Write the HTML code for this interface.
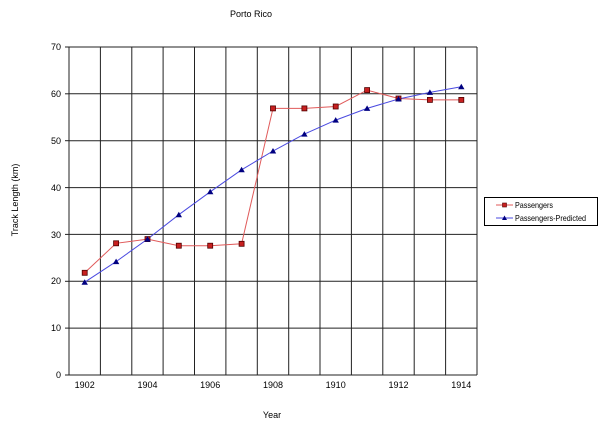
<!DOCTYPE html>
<html><head><meta charset="utf-8"><style>
html,body{margin:0;padding:0;background:#fff;}
svg{display:block;font-family:"Liberation Sans",Arial,sans-serif;}
</style></head><body>
<svg width="600" height="424" viewBox="0 0 600 424" xmlns="http://www.w3.org/2000/svg">
<rect width="600" height="424" fill="#fff"/>
<text x="251" y="17" font-size="9" text-anchor="middle" fill="#000">Porto Rico</text>
<g stroke="#222" stroke-width="1" fill="none">
<line x1="69" y1="47" x2="477" y2="47"/>
<line x1="69" y1="93.8" x2="477" y2="93.8"/>
<line x1="69" y1="140.7" x2="477" y2="140.7"/>
<line x1="69" y1="187.6" x2="477" y2="187.6"/>
<line x1="69" y1="234.4" x2="477" y2="234.4"/>
<line x1="69" y1="281.3" x2="477" y2="281.3"/>
<line x1="69" y1="328.1" x2="477" y2="328.1"/>
<line x1="100.4" y1="47" x2="100.4" y2="375"/>
<line x1="131.8" y1="47" x2="131.8" y2="375"/>
<line x1="163.1" y1="47" x2="163.1" y2="375"/>
<line x1="194.5" y1="47" x2="194.5" y2="375"/>
<line x1="225.9" y1="47" x2="225.9" y2="375"/>
<line x1="257.3" y1="47" x2="257.3" y2="375"/>
<line x1="288.7" y1="47" x2="288.7" y2="375"/>
<line x1="320" y1="47" x2="320" y2="375"/>
<line x1="351.4" y1="47" x2="351.4" y2="375"/>
<line x1="382.8" y1="47" x2="382.8" y2="375"/>
<line x1="414.2" y1="47" x2="414.2" y2="375"/>
<line x1="445.6" y1="47" x2="445.6" y2="375"/>
<line x1="477" y1="47" x2="477" y2="375"/>
<line x1="69" y1="47" x2="69" y2="375"/>
<line x1="69" y1="375" x2="477" y2="375"/>
<line x1="65" y1="47" x2="69" y2="47"/>
<line x1="65" y1="93.8" x2="69" y2="93.8"/>
<line x1="65" y1="140.7" x2="69" y2="140.7"/>
<line x1="65" y1="187.6" x2="69" y2="187.6"/>
<line x1="65" y1="234.4" x2="69" y2="234.4"/>
<line x1="65" y1="281.3" x2="69" y2="281.3"/>
<line x1="65" y1="328.1" x2="69" y2="328.1"/>
<line x1="65" y1="375" x2="69" y2="375"/>
</g>
<g font-size="9" fill="#000" text-anchor="end">
<text x="61" y="50">70</text>
<text x="61" y="97">60</text>
<text x="61" y="144">50</text>
<text x="61" y="191">40</text>
<text x="61" y="238">30</text>
<text x="61" y="284">20</text>
<text x="61" y="331">10</text>
<text x="61" y="378">0</text>
</g>
<g font-size="9" fill="#000" text-anchor="middle">
<text x="84.7" y="388">1902</text>
<text x="147.5" y="388">1904</text>
<text x="210.2" y="388">1906</text>
<text x="273" y="388">1908</text>
<text x="335.7" y="388">1910</text>
<text x="398.5" y="388">1912</text>
<text x="461.3" y="388">1914</text>
<text x="272" y="418">Year</text>
<text transform="translate(18,200) rotate(-90)">Track Length (km)</text>
</g>
<polyline fill="none" stroke="#e05a5a" stroke-width="1" points="84.7,272.8 116.1,243.3 147.5,239.1 178.8,245.7 210.2,245.7 241.6,243.8 273,108.4 304.4,108.4 335.7,106.5 367.1,90.1 398.5,98.5 429.9,99.9 461.3,99.9"/>
<polyline fill="none" stroke="#4a4ae0" stroke-width="1" points="84.7,282.2 116.1,261.6 147.5,239.1 178.8,214.7 210.2,191.8 241.6,169.8 273,151 304.4,134.1 335.7,120.1 367.1,108.4 398.5,99 429.9,92.4 461.3,86.8"/>
<g fill="#c82020" stroke="#500000" stroke-width="0.8">
<rect x="82.2" y="270.3" width="5" height="5"/>
<rect x="113.6" y="240.8" width="5" height="5"/>
<rect x="145" y="236.6" width="5" height="5"/>
<rect x="176.3" y="243.2" width="5" height="5"/>
<rect x="207.7" y="243.2" width="5" height="5"/>
<rect x="239.1" y="241.3" width="5" height="5"/>
<rect x="270.5" y="105.9" width="5" height="5"/>
<rect x="301.9" y="105.9" width="5" height="5"/>
<rect x="333.2" y="104" width="5" height="5"/>
<rect x="364.6" y="87.6" width="5" height="5"/>
<rect x="396" y="96" width="5" height="5"/>
<rect x="427.4" y="97.4" width="5" height="5"/>
<rect x="458.8" y="97.4" width="5" height="5"/>
</g>
<g fill="#000080">
<polygon points="84.7,279.2 87.9,284.7 81.5,284.7"/>
<polygon points="116.1,258.6 119.3,264.1 112.9,264.1"/>
<polygon points="147.5,236.1 150.7,241.6 144.3,241.6"/>
<polygon points="178.8,211.7 182,217.2 175.6,217.2"/>
<polygon points="210.2,188.8 213.4,194.3 207,194.3"/>
<polygon points="241.6,166.8 244.8,172.3 238.4,172.3"/>
<polygon points="273,148 276.2,153.5 269.8,153.5"/>
<polygon points="304.4,131.1 307.6,136.6 301.2,136.6"/>
<polygon points="335.7,117.1 338.9,122.6 332.5,122.6"/>
<polygon points="367.1,105.4 370.3,110.9 363.9,110.9"/>
<polygon points="398.5,96 401.7,101.5 395.3,101.5"/>
<polygon points="429.9,89.4 433.1,94.9 426.7,94.9"/>
<polygon points="461.3,83.8 464.5,89.3 458.1,89.3"/>
</g>
<rect x="484.5" y="197.5" width="113" height="28" fill="#fff" stroke="#000" stroke-width="1"/>
<line x1="496" y1="205" x2="513" y2="205" stroke="#e05a5a" stroke-width="1"/>
<rect x="502.5" y="203" width="4" height="4" fill="#c82020" stroke="#500000" stroke-width="0.6"/>
<line x1="496" y1="218" x2="513" y2="218" stroke="#4a4ae0" stroke-width="1"/>
<polygon points="504.5,215.5 507,220 502,220" fill="#000080"/>
<g font-size="8.5" fill="#000">
<text x="515" y="208" textLength="38" lengthAdjust="spacingAndGlyphs">Passengers</text>
<text x="515" y="221" textLength="71" lengthAdjust="spacingAndGlyphs">Passengers-Predicted</text>
</g>
</svg>
</body></html>
